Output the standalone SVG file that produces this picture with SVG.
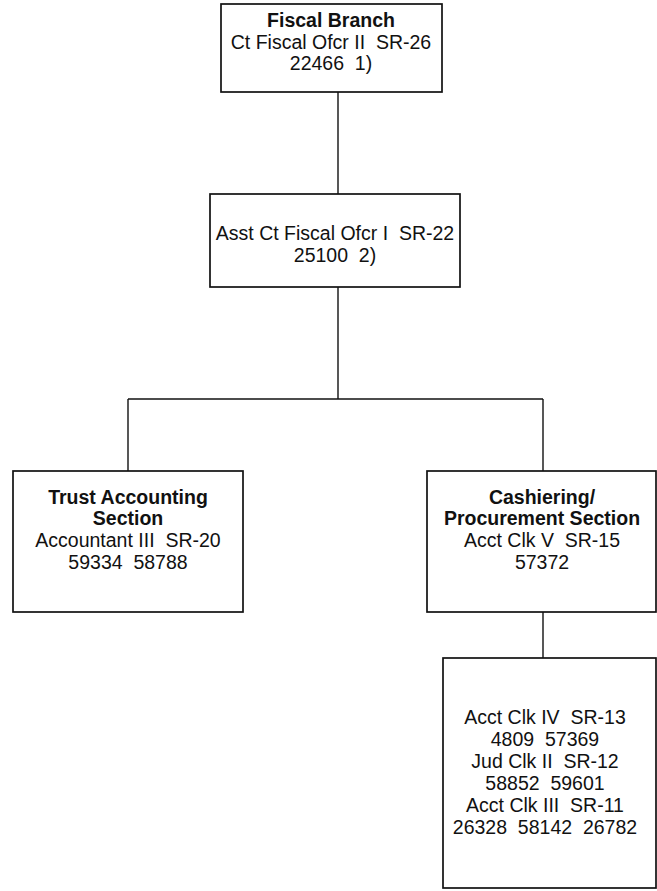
<svg xmlns="http://www.w3.org/2000/svg" width="657" height="891" viewBox="0 0 657 891">
<style>
.box{fill:none;stroke:#111;stroke-width:1.7}
.ln{fill:none;stroke:#111;stroke-width:1.4}
text{font-family:"Liberation Sans",Arial,sans-serif;font-size:19.5px;fill:#111;text-anchor:middle}
.b{font-weight:bold}
</style>
<rect width="657" height="891" fill="#fff"/>
<g id="connectors">
<line class="ln" x1="338" y1="92" x2="338" y2="194"/>
<line class="ln" x1="338" y1="287" x2="338" y2="399"/>
<line class="ln" x1="128" y1="399" x2="543" y2="399"/>
<line class="ln" x1="128" y1="399" x2="128" y2="471"/>
<line class="ln" x1="543" y1="399" x2="543" y2="471"/>
<line class="ln" x1="543" y1="612" x2="543" y2="658"/>
</g>
<g id="fiscal-branch">
<rect class="box" x="221" y="4" width="221" height="88"/>
<text x="331" y="27" class="b">Fiscal Branch</text>
<text x="331" y="49" xml:space="preserve">Ct Fiscal Ofcr II  SR-26</text>
<text x="331" y="70" xml:space="preserve">22466  1)</text>
</g>
<g id="asst-officer">
<rect class="box" x="210" y="194" width="250" height="93"/>
<text x="335" y="240" xml:space="preserve">Asst Ct Fiscal Ofcr I  SR-22</text>
<text x="335" y="262" xml:space="preserve">25100  2)</text>
</g>
<g id="trust-accounting">
<rect class="box" x="13" y="471" width="230" height="141"/>
<text x="128" y="504" class="b">Trust Accounting</text>
<text x="128" y="525" class="b">Section</text>
<text x="128" y="547" xml:space="preserve">Accountant III  SR-20</text>
<text x="128" y="569" xml:space="preserve">59334  58788</text>
</g>
<g id="cashiering">
<rect class="box" x="427" y="471" width="229" height="141"/>
<text x="542" y="504" class="b">Cashiering/</text>
<text x="542" y="525" class="b">Procurement Section</text>
<text x="542" y="547" xml:space="preserve">Acct Clk V  SR-15</text>
<text x="542" y="569">57372</text>
</g>
<g id="clerks">
<rect class="box" x="443" y="658" width="213" height="230"/>
<text x="545" y="724" xml:space="preserve">Acct Clk IV  SR-13</text>
<text x="545" y="746" xml:space="preserve">4809  57369</text>
<text x="545" y="768" xml:space="preserve">Jud Clk II  SR-12</text>
<text x="545" y="790" xml:space="preserve">58852  59601</text>
<text x="545" y="812" xml:space="preserve">Acct Clk III  SR-11</text>
<text x="545" y="834" xml:space="preserve">26328  58142  26782</text>
</g>
</svg>
